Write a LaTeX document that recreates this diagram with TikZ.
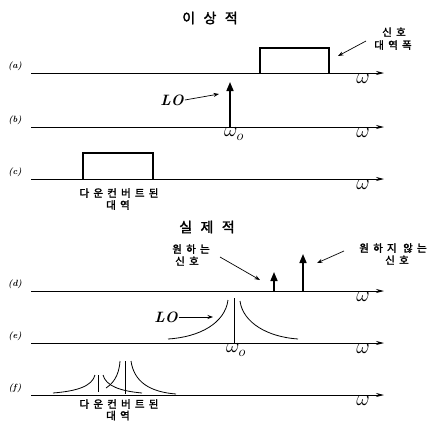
\documentclass[tikz,border=0pt]{standalone}
\usepackage{fontspec}
\usetikzlibrary{arrows.meta}
\newfontfamily\krsmall[LetterSpace=40,FakeBold=2]{Noto Sans CJK KR}
\newfontfamily\krtitle[LetterSpace=60,FakeBold=2]{Noto Sans CJK KR}
\begin{document}
\begin{tikzpicture}[x=1pt,y=-1pt,
  axis/.style={line width=0.8pt,-{Stealth[length=8pt,width=4pt]}},
  spike/.style={line width=1.6pt,-{Triangle[length=9pt,width=7pt]}},
  boxline/.style={line width=1.3pt},
  curve/.style={line width=0.8pt},
  ptr/.style={line width=0.7pt,-{Stealth[length=5.5pt,width=4pt]}},
  rowlbl/.style={font=\fontsize{9}{9}\selectfont\bfseries\itshape,inner sep=0pt},
  wlbl/.style={font=\fontsize{20}{20}\selectfont,inner sep=0pt},
  lo/.style={font=\fontsize{15}{15}\selectfont\bfseries\itshape,inner sep=1pt},
  kr/.style={font=\fontsize{10.5}{11}\selectfont\krsmall,inner sep=0pt},
  krt/.style={font=\fontsize{14}{14}\selectfont\krtitle,inner sep=0pt}]
\useasboundingbox (0,0) rectangle (437,421);

% titles
\node[krt] (t1) at (210,18) {이상적};
\node[krt] (t2) at (207,227) {실제적};

% row labels
\node[rowlbl] (la) at (15,66) {(a)};
\node[rowlbl] (lb) at (15,120) {(b)};
\node[rowlbl] (lc) at (15,172) {(c)};
\node[rowlbl] (ld) at (15,284) {(d)};
\node[rowlbl] (le) at (15,336) {(e)};
\node[rowlbl] (lf) at (15,388) {(f)};

% axes
\foreach \n/\y in {a/73,b/127,c/179,d/291,e/343,f/395}{
  \coordinate (\n0) at (31,\y);
  \coordinate (\n1) at (384,\y);
  \draw[axis] (\n0) -- (\n1);
  \node[wlbl] (w\n) at (363,\y+6) {$\omega$};
}

% (a) signal band
\draw[boxline] (260,73) -- (260,48) -- (329,48) -- (329,73);
\node[kr] (sa1) at (394,32) {신호};
\node[kr] (sa2) at (393,45) {대역폭};
\coordinate (sat) at (338,56);
\draw[ptr] (366,41) -- (sat);

% (b) LO
\coordinate (bs0) at (230,127);
\coordinate (bs1) at (230,82);
\draw[spike] (bs0) -- (bs1);
\node[wlbl] (wb0) at (234,134) {$\omega_o$};
\node[lo] (lob) at (172,100) {LO};
\coordinate (lobt) at (219,94);
\draw[ptr] (lob.east) -- (lobt);

% (c) downconverted band
\draw[boxline] (83,179) -- (83,153) -- (153,153) -- (153,179);
\node[kr] (dc1) at (119,193) {다운컨버트된};
\node[kr] (dc2) at (118,205) {대역};

% (d) wanted/unwanted
\coordinate (ds0) at (274,291);
\coordinate (ds1) at (274,272);
\draw[spike] (ds0) -- (ds1);
\coordinate (us0) at (303,291);
\coordinate (us1) at (303,254);
\draw[spike] (us0) -- (us1);
\node[kr] (wd1) at (191,249) {원하는};
\node[kr] (wd2) at (187,261) {신호};
\coordinate (wdt) at (260,280);
\draw[ptr] (220,257) -- (wdt);
\node[kr] (ud1) at (393,248) {원하지 않는};
\node[kr] (ud2) at (397,260) {신호};
\coordinate (udt) at (317,263);
\draw[ptr] (344,251) -- (udt);

% (e) real LO spectrum
\draw[line width=0.9pt] (234,343) -- (234,298);
\draw[curve] (168,339) .. controls (200,337) and (225,323) .. (228,300);
\draw[curve] (240,301) .. controls (243,323) and (268,337) .. (298,339);
\node[wlbl] (we0) at (236,350) {$\omega_o$};
\node[lo] (loe) at (166,317) {LO};
\coordinate (loet) at (213,317);
\draw[ptr] (loe.east) -- (loet);

% (f) real downconverted
\draw[curve] (53,393) .. controls (78,391) and (92,386) .. (95,375);
\draw[line width=0.8pt] (98,375) -- (98,392);
\draw[curve] (103,375) .. controls (106,386) and (120,391) .. (142,393);
\draw[curve] (120,361) .. controls (119,377) and (112,384) .. (106,388);
\draw[line width=0.8pt] (125,361) -- (125,394);
\draw[curve] (131,361) .. controls (134,382) and (150,392) .. (176,394);
\node[kr] (df1) at (119,404) {다운컨버트된};
\node[kr] (df2) at (118,415.5) {대역};
\end{tikzpicture}
\end{document}
